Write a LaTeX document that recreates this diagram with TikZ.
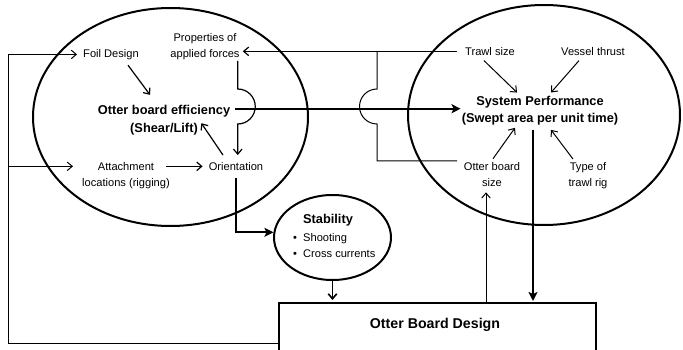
\documentclass[tikz,border=0pt]{standalone}
\usepackage{fontspec}
\setmainfont{Liberation Sans}
\usetikzlibrary{shapes.geometric,arrows.meta,calc}
\begin{document}
\begin{tikzpicture}[x=1pt,y=-1pt,
  every node/.style={inner sep=1pt},
  reg/.style={font=\fontsize{11.1}{16}\selectfont, align=center},
  bld/.style={font=\fontsize{12.8}{17}\selectfont\bfseries, align=center},
  oval/.style={draw, ellipse, line width=2pt, inner sep=0pt},
  fline/.style={line width=1pt},
  arr/.style={line width=1.2pt, -{Straight Barb[length=5pt,width=8.5pt]}},
  tarr/.style={line width=2pt, -{Stealth[length=9pt,width=9pt,inset=2pt]}},
]
\useasboundingbox (0,0) rectangle (683,350);
\clip (0,0) rectangle (683,350);

% ovals and box
\node[oval, minimum width=275pt, minimum height=218pt] (L) at (170.5,117) {};
\node[oval, minimum width=272pt, minimum height=220pt] (R) at (544,115) {};
\node[oval, minimum width=117pt, minimum height=85pt] (stab) at (332.5,237.5) {};
\node[draw, line width=1.8pt, minimum width=317pt, minimum height=80pt, anchor=north west, inner sep=0pt] (box) at (278,302) {};

% texts
\node[reg, anchor=base] (foil) at (111,57.3) {Foil Design};
\node[reg] (props) at (205,46.4) {Properties of\\applied forces};
\node[bld, font=\fontsize{12.8}{18.4}\selectfont\bfseries] (eff) at (164,120.2) {Otter board efficiency\\(Shear/Lift)};
\node[reg] (att) at (126,175.4) {Attachment\\locations (rigging)};
\node[reg, anchor=base] (ori) at (236,170.3) {Orientation};
\node[reg, anchor=base] (trawl) at (490,55.3) {Trawl size};
\node[reg, anchor=base] (vessel) at (593,55.3) {Vessel thrust};
\node[bld] (sp) at (540,110.2) {System Performance\\(Swept area per unit time)};
\node[reg] (obs) at (492,175) {Otter board\\size};
\node[reg] (rig) at (588,175.4) {Type of\\trawl rig};
\node[bld, anchor=base] (stabt) at (328,223) {Stability};
\node[reg, anchor=base] (b1) at (295,241.3) {\textbullet};
\node[reg, anchor=base west] (shoot) at (302,241.3) {Shooting};
\node[reg, anchor=base] (b2) at (295,257.3) {\textbullet};
\node[reg, anchor=base west] (cross) at (302,257.3) {Cross currents};
\node[font=\fontsize{14.2}{17}\selectfont\bfseries, anchor=base] (boxt) at (435,328.5) {Otter Board Design};

% feedback loop on the left
\coordinate (fb) at (8,343);
\draw[arr, line width=1pt, shorten >=5pt] (box.west |- fb) -- (fb) -- (fb |- foil.west) -- (foil.west);
\draw[arr, line width=1pt, shorten >=8pt] (fb |- ori.west) -- (att.west |- ori.west);

% inside left oval
\draw[arr, shorten >=5pt] ([xshift=-5pt]att.east |- ori.west) -- (ori.west);
\draw[arr] ([xshift=17pt,yshift=-4.4pt]foil.south) -- ([xshift=-14pt,yshift=9pt]eff.north);
\draw[arr] ([xshift=-13pt,yshift=6pt]ori.north) -- ([xshift=-30pt,yshift=13.4pt]eff.south east);
\draw[arr, shorten >=6pt] ([xshift=-3pt]props.south east) coordinate (pv) -- (pv |- 0,89)
  arc[start angle=-90, end angle=90, radius=17.5] -- (pv |- ori.north);

% main thick link
\coordinate (el) at ([xshift=4pt,yshift=11.5pt]eff.east);
\draw[tarr] (el) -- (sp.west |- el);

% bracket from trawl size / otter board size to properties
\coordinate (tw) at ([xshift=-7pt]trawl.west);
\coordinate (bx) at (377,0);
\draw[arr, shorten >=2pt] (tw) -- (props.east |- tw);
\draw[fline] (bx |- tw) -- (bx |- 0,89) arc[start angle=-90, end angle=-270, radius=17.5] -- (bx |- 0,161) -- (tw |- 0,161);

% inside right oval
\draw[arr, line width=1pt] ([xshift=-6pt,yshift=-4pt]trawl.south) -- ([xshift=-23pt,yshift=2pt]sp.north);
\draw[arr, line width=1pt] ([xshift=-14pt,yshift=-4pt]vessel.south) -- ([xshift=11pt,yshift=2pt]sp.north);
\draw[arr, line width=1pt] ([xshift=1pt,yshift=3pt]obs.north) -- ([xshift=-25pt,yshift=-2pt]sp.south);
\draw[arr, line width=1pt] ([xshift=-15pt,yshift=2pt]rig.north) -- ([xshift=11pt,yshift=-4pt]sp.south);

% links to and from the design box
\draw[tarr, shorten >=1pt] ([xshift=-7pt,yshift=-4pt]sp.south) -- ([xshift=-7pt]sp.south |- box.north);
\draw[arr, line width=1pt] ([xshift=-6pt]obs.south |- box.north) -- ([xshift=-6pt,yshift=-4pt]obs.south);
\draw[tarr] ([yshift=-6pt]ori.south) -- (ori.south |- stab.175) -- (stab.175);
\draw[arr, line width=1.6pt, shorten >=2pt] (stab.south) -- (stab.south |- box.north);
\end{tikzpicture}
\end{document}
